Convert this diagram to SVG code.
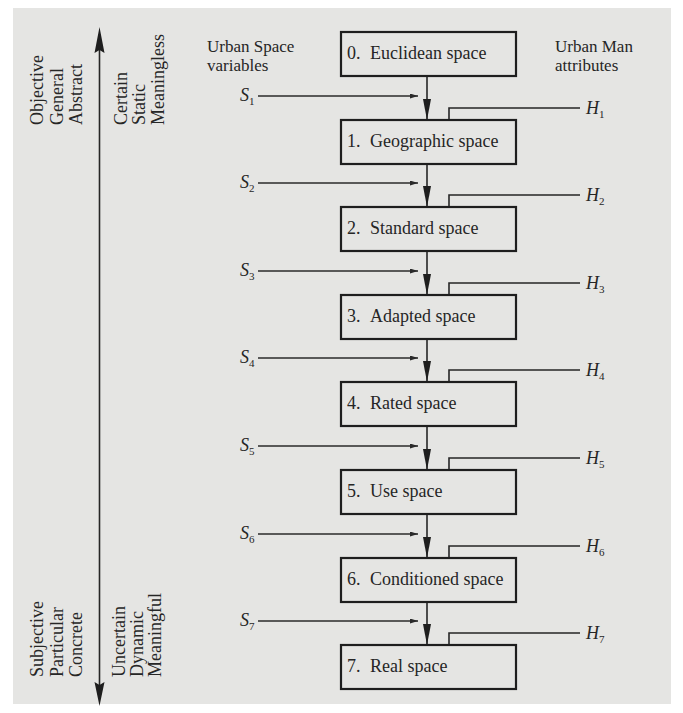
<svg xmlns="http://www.w3.org/2000/svg" width="683" height="713" viewBox="0 0 683 713">
<defs>
<style>
text{font-family:"Liberation Serif","Times New Roman",serif;fill:#262626;font-size:18px}
.hdr{font-size:17px}
.lab{font-style:italic}
.sub{font-size:11px;font-style:normal}
.box{fill:none;stroke:#1e1e1e;stroke-width:2.2}
.ln{fill:none;stroke:#262626;stroke-width:1.6}
.thin{fill:none;stroke:#2a2a2a;stroke-width:1.3}
.head{fill:#1e1e1e}
</style>
<marker id="down" markerUnits="userSpaceOnUse" markerWidth="21" markerHeight="8" refX="21" refY="4" orient="auto" viewBox="0 0 21 8">
<path d="M0,0 L21,4 L0,8 Z" fill="#1e1e1e"/>
</marker>
<marker id="small" markerUnits="userSpaceOnUse" markerWidth="8" markerHeight="5" refX="8" refY="2.5" orient="auto" viewBox="0 0 8 5">
<path d="M0,0 L8,2.5 L0,5 Z" fill="#2a2a2a"/>
</marker>
</defs>
<rect x="0" y="0" width="683" height="713" fill="#ffffff"/>
<rect x="13" y="8" width="658" height="696" fill="#e5e5e3"/>

<g id="axis">
<line class="ln" x1="99.5" y1="45" x2="99.5" y2="690"/>
<polygon class="head" points="99.5,27 104.5,53 99.5,50 94.5,53"/>
<polygon class="head" points="99.5,706 104.5,682 99.5,685 94.5,682"/>
</g>

<g id="axis-labels">
<text transform="translate(43,125) rotate(-90)">Objective</text>
<text transform="translate(63,125) rotate(-90)">General</text>
<text transform="translate(82,125) rotate(-90)">Abstract</text>
<text transform="translate(127,125) rotate(-90)">Certain</text>
<text transform="translate(145,125) rotate(-90)">Static</text>
<text transform="translate(164,125) rotate(-90)">Meaningless</text>
<text transform="translate(43,677) rotate(-90)">Subjective</text>
<text transform="translate(63,677) rotate(-90)">Particular</text>
<text transform="translate(82,677) rotate(-90)">Concrete</text>
<text transform="translate(125,677) rotate(-90)">Uncertain</text>
<text transform="translate(143,677) rotate(-90)">Dynamic</text>
<text transform="translate(161,677) rotate(-90)">Meaningful</text>
</g>

<g id="headers">
<text class="hdr" x="207" y="52">Urban Space</text>
<text class="hdr" x="207" y="71">variables</text>
<text class="hdr" x="555" y="52">Urban Man</text>
<text class="hdr" x="555" y="71">attributes</text>
</g>

<g id="connectors">
<line class="ln" x1="427" y1="76" x2="427" y2="120" marker-end="url(#down)"/>
<line class="ln" x1="427" y1="164" x2="427" y2="207" marker-end="url(#down)"/>
<line class="ln" x1="427" y1="251" x2="427" y2="295" marker-end="url(#down)"/>
<line class="ln" x1="427" y1="339" x2="427" y2="382" marker-end="url(#down)"/>
<line class="ln" x1="427" y1="426" x2="427" y2="470" marker-end="url(#down)"/>
<line class="ln" x1="427" y1="514" x2="427" y2="558" marker-end="url(#down)"/>
<line class="ln" x1="427" y1="602" x2="427" y2="645" marker-end="url(#down)"/>

<line class="thin" x1="258" y1="96" x2="418" y2="96" marker-end="url(#small)"/>
<line class="thin" x1="258" y1="183" x2="418" y2="183" marker-end="url(#small)"/>
<line class="thin" x1="258" y1="271" x2="418" y2="271" marker-end="url(#small)"/>
<line class="thin" x1="258" y1="358" x2="418" y2="358" marker-end="url(#small)"/>
<line class="thin" x1="258" y1="446" x2="418" y2="446" marker-end="url(#small)"/>
<line class="thin" x1="258" y1="534" x2="418" y2="534" marker-end="url(#small)"/>
<line class="thin" x1="258" y1="621" x2="418" y2="621" marker-end="url(#small)"/>

<polyline class="ln" points="580,108 449,108 449,120"/>
<polyline class="ln" points="580,195 449,195 449,207"/>
<polyline class="ln" points="580,283 449,283 449,295"/>
<polyline class="ln" points="580,370 449,370 449,382"/>
<polyline class="ln" points="580,458 449,458 449,470"/>
<polyline class="ln" points="580,546 449,546 449,558"/>
<polyline class="ln" points="580,633 449,633 449,645"/>
</g>

<g id="s-labels">
<text class="lab" x="240" y="101">S<tspan class="sub" dy="4">1</tspan></text>
<text class="lab" x="240" y="188">S<tspan class="sub" dy="4">2</tspan></text>
<text class="lab" x="240" y="276">S<tspan class="sub" dy="4">3</tspan></text>
<text class="lab" x="240" y="363">S<tspan class="sub" dy="4">4</tspan></text>
<text class="lab" x="240" y="451">S<tspan class="sub" dy="4">5</tspan></text>
<text class="lab" x="240" y="539">S<tspan class="sub" dy="4">6</tspan></text>
<text class="lab" x="240" y="626">S<tspan class="sub" dy="4">7</tspan></text>
</g>

<g id="h-labels">
<text class="lab" x="586" y="114">H<tspan class="sub" dy="4">1</tspan></text>
<text class="lab" x="586" y="201">H<tspan class="sub" dy="4">2</tspan></text>
<text class="lab" x="586" y="289">H<tspan class="sub" dy="4">3</tspan></text>
<text class="lab" x="586" y="376">H<tspan class="sub" dy="4">4</tspan></text>
<text class="lab" x="586" y="464">H<tspan class="sub" dy="4">5</tspan></text>
<text class="lab" x="586" y="552">H<tspan class="sub" dy="4">6</tspan></text>
<text class="lab" x="586" y="639">H<tspan class="sub" dy="4">7</tspan></text>
</g>

<g id="node0"><rect class="box" x="341" y="32" width="175" height="44"/><text x="347" y="59">0.<tspan x="370">Euclidean space</tspan></text></g>
<g id="node1"><rect class="box" x="341" y="120" width="175" height="44"/><text x="347" y="147">1.<tspan x="370">Geographic space</tspan></text></g>
<g id="node2"><rect class="box" x="341" y="207" width="175" height="44"/><text x="347" y="234">2.<tspan x="370">Standard space</tspan></text></g>
<g id="node3"><rect class="box" x="341" y="295" width="175" height="44"/><text x="347" y="322">3.<tspan x="370">Adapted space</tspan></text></g>
<g id="node4"><rect class="box" x="341" y="382" width="175" height="44"/><text x="347" y="409">4.<tspan x="370">Rated space</tspan></text></g>
<g id="node5"><rect class="box" x="341" y="470" width="175" height="44"/><text x="347" y="497">5.<tspan x="370">Use space</tspan></text></g>
<g id="node6"><rect class="box" x="341" y="558" width="175" height="44"/><text x="347" y="585">6.<tspan x="370">Conditioned space</tspan></text></g>
<g id="node7"><rect class="box" x="341" y="645" width="175" height="44"/><text x="347" y="672">7.<tspan x="370">Real space</tspan></text></g>
</svg>
